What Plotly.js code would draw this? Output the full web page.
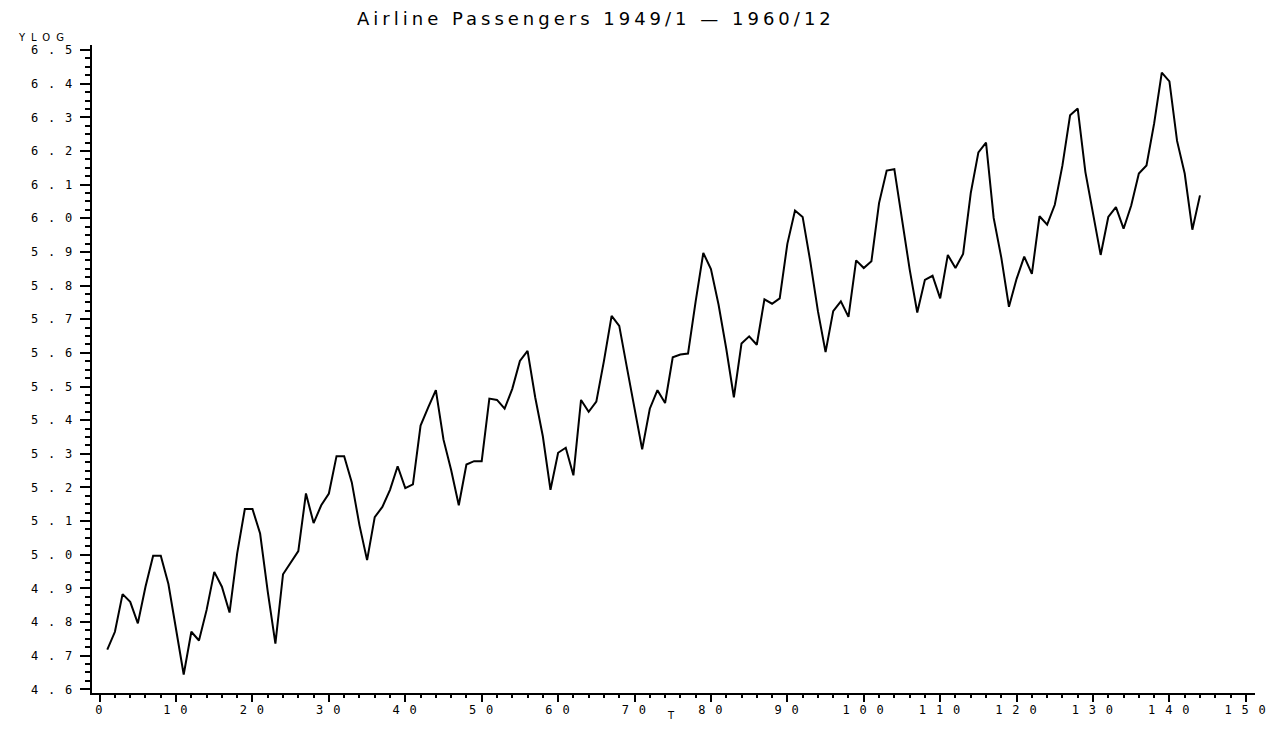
<!DOCTYPE html>
<html>
<head>
<meta charset="utf-8">
<script src="https://cdn.plot.ly/plotly-3.0.1.min.js"></script>
<style>
  html, body { margin: 0; padding: 0; background: #fff; }
  #chart { width: 1276px; height: 730px; }
  .gtitle { letter-spacing: 4px; }
  .xtick text, .ytick text { letter-spacing: 1.3px; }
  .annotation-text { letter-spacing: 6px; }
</style>
</head>
<body>
<div id="chart"></div>
<script>
// Time index (months since 1949/1)
const T = [
  1,2,3,4,5,6,7,8,9,10,11,12,
  13,14,15,16,17,18,19,20,21,22,23,24,
  25,26,27,28,29,30,31,32,33,34,35,36,
  37,38,39,40,41,42,43,44,45,46,47,48,
  49,50,51,52,53,54,55,56,57,58,59,60,
  61,62,63,64,65,66,67,68,69,70,71,72,
  73,74,75,76,77,78,79,80,81,82,83,84,
  85,86,87,88,89,90,91,92,93,94,95,96,
  97,98,99,100,101,102,103,104,105,106,107,108,
  109,110,111,112,113,114,115,116,117,118,119,120,
  121,122,123,124,125,126,127,128,129,130,131,132,
  133,134,135,136,137,138,139,140,141,142,143,144
];

// YLOG: log of monthly airline passengers
const YLOG = [
  4.718, 4.771, 4.883, 4.860, 4.796, 4.905, 4.997, 4.997, 4.913, 4.779, 4.644, 4.771,
  4.745, 4.836, 4.949, 4.905, 4.828, 5.004, 5.136, 5.136, 5.063, 4.890, 4.736, 4.942,
  4.977, 5.011, 5.182, 5.094, 5.147, 5.182, 5.293, 5.293, 5.215, 5.088, 4.984, 5.112,
  5.142, 5.193, 5.263, 5.198, 5.209, 5.384, 5.438, 5.489, 5.342, 5.252, 5.147, 5.268,
  5.278, 5.278, 5.464, 5.460, 5.434, 5.493, 5.576, 5.606, 5.468, 5.352, 5.193, 5.303,
  5.318, 5.236, 5.460, 5.425, 5.455, 5.576, 5.710, 5.680, 5.557, 5.434, 5.313, 5.434,
  5.489, 5.451, 5.587, 5.595, 5.598, 5.753, 5.897, 5.849, 5.743, 5.613, 5.468, 5.628,
  5.649, 5.624, 5.759, 5.746, 5.762, 5.924, 6.023, 6.004, 5.872, 5.724, 5.602, 5.724,
  5.753, 5.707, 5.875, 5.852, 5.872, 6.045, 6.142, 6.146, 6.001, 5.849, 5.720, 5.817,
  5.829, 5.762, 5.891, 5.852, 5.894, 6.075, 6.196, 6.225, 6.001, 5.883, 5.737, 5.820,
  5.886, 5.835, 6.006, 5.981, 6.040, 6.157, 6.306, 6.326, 6.138, 6.009, 5.891, 6.004,
  6.033, 5.969, 6.038, 6.133, 6.157, 6.282, 6.433, 6.407, 6.230, 6.133, 5.966, 6.068
];

const xTickVals = [0,10,20,30,40,50,60,70,80,90,100,110,120,130,140,150];
const xTickText = ["0","1 0","2 0","3 0","4 0","5 0","6 0","7 0","8 0","9 0","1 0 0","1 1 0","1 2 0","1 3 0","1 4 0","1 5 0"];
const yTickVals = [4.6,4.7,4.8,4.9,5.0,5.1,5.2,5.3,5.4,5.5,5.6,5.7,5.8,5.9,6.0,6.1,6.2,6.3,6.4,6.5];
const yTickText = ["4 . 6","4 . 7","4 . 8","4 . 9","5 . 0","5 . 1","5 . 2","5 . 3","5 . 4","5 . 5","5 . 6","5 . 7","5 . 8","5 . 9","6 . 0","6 . 1","6 . 2","6 . 3","6 . 4","6 . 5"];

const tickFont = {family: "DejaVu Sans Mono", size: 12, color: "#000"};

const trace = {
  x: T, y: YLOG, type: "scatter", mode: "lines",
  line: {color: "#000", width: 2},
  hoverinfo: "x+y"
};

const layout = {
  width: 1276, height: 730,
  paper_bgcolor: "#fff", plot_bgcolor: "#fff",
  margin: {l: 92, r: 21, t: 45, b: 37},
  showlegend: false,
  title: {
    text: "Airline Passengers 1949/1 — 1960/12",
    font: {family: "DejaVu Sans", size: 18, color: "#000"},
    xref: "container", x: 0.467, xanchor: "center",
    yref: "container", y: 0.974, yanchor: "middle"
  },
  xaxis: {
    range: [-1, 151.2],
    showgrid: false, zeroline: false,
    showline: true, linecolor: "#000", linewidth: 2,
    ticks: "outside", ticklen: 7, tickwidth: 2, tickcolor: "#000",
    tickmode: "array", tickvals: xTickVals, ticktext: xTickText,
    tickfont: tickFont,
    ticklabelstandoff: -2,
    minor: {dtick: 2, tick0: 0, ticks: "outside", ticklen: 3, tickwidth: 2, tickcolor: "#000", showgrid: false}
  },
  yaxis: {
    range: [4.589, 6.515],
    showgrid: false, zeroline: false,
    showline: true, linecolor: "#000", linewidth: 2,
    ticks: "outside", ticklen: 10, tickwidth: 2, tickcolor: "#000",
    tickmode: "array", tickvals: yTickVals, ticktext: yTickText,
    tickfont: tickFont,
    ticklabelstandoff: 4,
    minor: {dtick: 0.025, tick0: 4.6, ticks: "outside", ticklen: 5, tickwidth: 2, tickcolor: "#000", showgrid: false}
  },
  annotations: [
    {
      text: "YLOG", xref: "paper", yref: "paper",
      x: -0.041, y: 1.0, xanchor: "center", yanchor: "middle",
      yshift: 8,
      showarrow: false,
      font: {family: "DejaVu Sans", size: 10, color: "#000"}
    },
    {
      text: "T", xref: "paper", yref: "paper",
      x: 0.5, y: 0, xanchor: "center", yanchor: "middle",
      yshift: -22,
      showarrow: false,
      font: {family: "DejaVu Sans", size: 10, color: "#000"}
    }
  ]
};

Plotly.newPlot("chart", [trace], layout, {displayModeBar: false, staticPlot: true});
</script>
</body>
</html>
